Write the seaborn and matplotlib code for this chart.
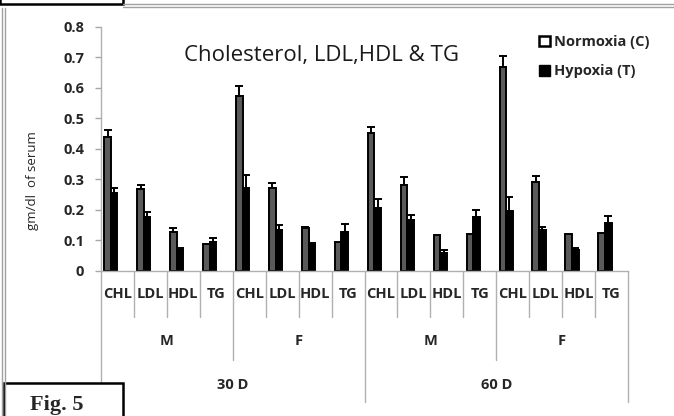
import matplotlib
matplotlib.use('Agg')
import matplotlib.pyplot as plt
from matplotlib.patches import Patch, Rectangle
from matplotlib.lines import Line2D
import seaborn as sns
import pandas as pd
import numpy as np

# values (gm/dl of serum)
analytes = ['CHL', 'LDL', 'HDL', 'TG']
sexes = ['M', 'F']
days = ['30 D', '60 D']
yticks = [0, 0.1, 0.2, 0.3, 0.4, 0.5, 0.6, 0.7, 0.8]
ytick_labels = ['0', '0.1', '0.2', '0.3', '0.4', '0.5', '0.6', '0.7', '0.8']

normoxia = [0.440, 0.267, 0.128, 0.087, 0.572, 0.270, 0.139, 0.095,
            0.453, 0.281, 0.117, 0.120, 0.670, 0.292, 0.120, 0.124]
normoxia_err = [0.022, 0.013, 0.012, 0.0, 0.035, 0.017, 0.005, 0.0,
                0.020, 0.026, 0.0, 0.0, 0.035, 0.017, 0.0, 0.0]
hypoxia = [0.255, 0.177, 0.067, 0.095, 0.270, 0.133, 0.084, 0.128,
           0.205, 0.166, 0.057, 0.177, 0.195, 0.133, 0.067, 0.155]
hypoxia_err = [0.015, 0.016, 0.007, 0.013, 0.044, 0.017, 0.007, 0.025,
               0.029, 0.017, 0.010, 0.022, 0.045, 0.011, 0.008, 0.024]

series = ['Normoxia (C)', 'Hypoxia (T)']

# one unique key per bar group, labels get set after
keys = []
for d in days:
    for s in sexes:
        for a in analytes:
            keys.append(d + '|' + s + '|' + a)

df = pd.DataFrame({'group': keys * 2,
                   'value': normoxia + hypoxia,
                   'condition': [series[0]] * len(keys) + [series[1]] * len(keys)})

sns.set_theme(style='white')
plt.rcParams['font.family'] = ['Open Sans', 'DejaVu Sans']

fig = plt.figure(figsize=(6.74, 4.16), dpi=100)
W, H = 674, 416
ax = fig.add_axes([101 / W, 1 - 270.5 / H, 527 / W, 243.5 / H])

# two empty hue slots keep the bars on the left side of each group (as in the original)
hue_order = series + ['_a', '_b']
pal = {series[0]: '#5a5a5a', series[1]: 'black', '_a': 'white', '_b': 'white'}
sns.barplot(data=df, x='group', y='value', hue='condition', hue_order=hue_order,
            palette=pal, width=0.8, errorbar=None, legend=False, ax=ax,
            edgecolor='black', linewidth=1.4, saturation=1)

for cont, errs in zip(ax.containers[:2], [normoxia_err, hypoxia_err]):
    xs = np.array([b.get_x() + b.get_width() / 2 for b in cont])
    ys = np.array([b.get_height() for b in cont])
    e = np.array(errs)
    m = e > 0
    ax.errorbar(xs[m], ys[m], yerr=[np.zeros(m.sum()), e[m]], fmt='none',
                ecolor='black', elinewidth=1.4, capsize=3, capthick=1.4)

ax.set_ylim(0, 0.8)
ax.set_xlim(-0.5, len(keys) - 0.5)
ax.set_yticks(yticks)
ax.set_yticklabels(ytick_labels, fontweight='bold', fontsize=10.5)
ax.tick_params(axis='y', length=4, width=1, color='#a6a6a6', pad=8, left=True)
ax.set_xticks(range(len(keys)))
ax.set_xticklabels(analytes * 4, fontweight='bold', fontsize=10.5)
ax.tick_params(axis='x', length=0, pad=12)
ax.set_xlabel('')
ax.set_ylabel('gm/dl  of serum', fontsize=9.5)
ax.yaxis.set_label_coords(-0.118, 0.37)
for sp in ['top', 'right']:
    ax.spines[sp].set_visible(False)
for sp in ['left', 'bottom']:
    ax.spines[sp].set_color('#b0b0b0')
    ax.spines[sp].set_linewidth(1)

# multi-level category separators
trans = ax.get_xaxis_transform()
for i in range(len(keys) + 1):
    b = i - 0.5
    if i % 8 == 0:
        depth = -0.542
    elif i % 4 == 0:
        depth = -0.366
    else:
        depth = -0.189
    ax.plot([b, b], [0, depth], color='#b0b0b0', lw=1, transform=trans, clip_on=False)

for j, s in enumerate(sexes * 2):
    ax.text(j * 4 + 1.5, -0.29, s, transform=trans, ha='center', va='center',
            fontweight='bold', fontsize=10.5)
for j, d in enumerate(days):
    ax.text(j * 8 + 3.5, -0.47, d, transform=trans, ha='center', va='center',
            fontweight='bold', fontsize=10.5)

fig.text(321 / W, 1 - 55 / H, 'Cholesterol, LDL,HDL & TG', ha='center', va='center',
         fontsize=16, color='#1a1a1a')

handles = [Patch(facecolor='white', edgecolor='black', linewidth=1.8),
           Patch(facecolor='black', edgecolor='black')]
fig.legend(handles, series, loc='upper left', bbox_to_anchor=(539 / W, 1 - 35 / H),
           frameon=False, prop={'weight': 'bold', 'size': 10.5}, handlelength=0.75,
           handleheight=0.75, handletextpad=0.3, labelspacing=1.05, borderpad=0, borderaxespad=0)

# page frame and figure label boxes
for yy in [4, 7]:
    fig.add_artist(Line2D([123 / W, 1], [1 - yy / H, 1 - yy / H], color='#a0a0a0', lw=1))
for xx in [2, 5]:
    fig.add_artist(Line2D([xx / W, xx / W], [0, 1 - 8 / H], color='#a0a0a0', lw=1))
fig.add_artist(Rectangle((0, 1 - 3.5 / H), 123 / W, 0.1, transform=fig.transFigure,
                         facecolor='white', edgecolor='black', lw=1.8, clip_on=False))
fig.add_artist(Rectangle((4 / W, -0.1), 119 / W, 0.1 + 1 - 383 / H, transform=fig.transFigure,
                         facecolor='white', edgecolor='black', lw=1.8, clip_on=False))
fig.text(57 / W, 1 - 405 / H, 'Fig. 5', ha='center', va='center', fontsize=16,
         fontweight='bold', family='Liberation Serif')

fig.savefig('out.png', dpi=100)
